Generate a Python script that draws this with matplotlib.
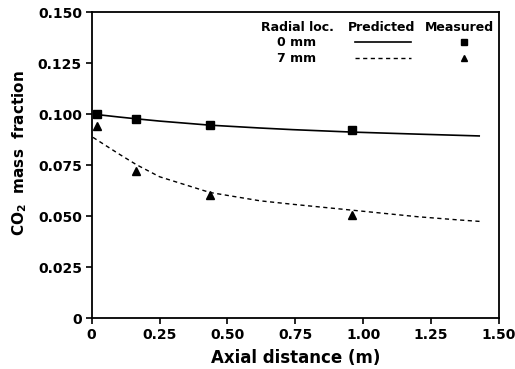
import matplotlib
matplotlib.use("Agg")
import matplotlib.pyplot as plt
from matplotlib.lines import Line2D

# Measured data
meas_x = [0.02, 0.165, 0.435, 0.96]
meas_0mm = [0.1002, 0.0975, 0.0948, 0.0920]
meas_7mm = [0.0940, 0.0722, 0.0603, 0.0505]

# Predicted curves
pred_x = [0.005, 0.10, 0.165, 0.25, 0.435, 0.62, 0.74, 0.96, 1.20, 1.354, 1.43]
pred_0mm = [0.1000, 0.0986, 0.0977, 0.0966, 0.0946, 0.0932, 0.0924, 0.0912, 0.0902, 0.0896, 0.0893]
pred_7mm = [0.0886, 0.0805, 0.0752, 0.0693, 0.0616, 0.0575, 0.0558, 0.0529, 0.0497, 0.0481, 0.0474]

xticks = [0, 0.25, 0.50, 0.75, 1.00, 1.25, 1.50]
xticklabels = ["0", "0.25", "0.50", "0.75", "1.00", "1.25", "1.50"]
yticks = [0, 0.025, 0.050, 0.075, 0.100, 0.125, 0.150]
yticklabels = ["0", "0.025", "0.050", "0.075", "0.100", "0.125", "0.150"]

plt.rcParams['font.family'] = ['DejaVu Sans']
plt.rcParams['font.weight'] = 'bold'

fig = plt.figure(figsize=(5.15, 3.69), dpi=100)
ax = fig.add_axes([0.178, 0.138, 0.791, 0.829])

ax.plot(pred_x, pred_0mm, color='black', lw=1.2, solid_capstyle='butt')
ax.plot(pred_x, pred_7mm, color='black', lw=1.0, linestyle=(0, (3, 2.5)))
ax.plot(meas_x, meas_0mm, linestyle='none', marker='s', color='black', markersize=6)
ax.plot(meas_x, meas_7mm, linestyle='none', marker='^', color='black', markersize=6)

ax.set_xlim(0, 1.5)
ax.set_ylim(0, 0.15)
ax.set_xticks(xticks)
ax.set_xticklabels(xticklabels, fontsize=10, fontweight='bold')
ax.set_yticks(yticks)
ax.set_yticklabels(yticklabels, fontsize=10, fontweight='bold')
ax.tick_params(direction='out', length=4, width=1.2, pad=3)
for s in ax.spines.values():
    s.set_linewidth(1.3)

ax.set_xlabel("Axial distance (m)", fontsize=12, fontweight='bold', labelpad=5)
ax.set_ylabel("CO$_\\mathbf{2}$  mass  fraction", fontsize=11, fontweight='bold')
ax.yaxis.set_label_coords(-0.155, 0.54)

# Legend table
tr = ax.transAxes
def ax_x(px):
    return (px - 91.7) / (499 - 91.7)
def ax_y(py):
    return (318 - py) / (318 - 12)

fs = 9
ax.text(ax_x(297), ax_y(27), "Radial loc.", transform=tr, fontsize=fs, fontweight='bold', ha='center', va='center')
ax.text(ax_x(382), ax_y(27), "Predicted", transform=tr, fontsize=fs, fontweight='bold', ha='center', va='center')
ax.text(ax_x(459), ax_y(27), "Measured", transform=tr, fontsize=fs, fontweight='bold', ha='center', va='center')
ax.text(ax_x(297), ax_y(42), "0 mm", transform=tr, fontsize=fs, fontweight='bold', ha='center', va='center')
ax.text(ax_x(297), ax_y(58), "7 mm", transform=tr, fontsize=fs, fontweight='bold', ha='center', va='center')
ax.add_line(Line2D([ax_x(355), ax_x(411)], [ax_y(42), ax_y(42)], transform=tr, color='black', lw=1.2))
ax.add_line(Line2D([ax_x(355), ax_x(411)], [ax_y(58), ax_y(58)], transform=tr, color='black', lw=1.0, linestyle=(0, (3, 2.5))))
ax.add_line(Line2D([ax_x(464)], [ax_y(42)], transform=tr, color='black', marker='s', markersize=5, linestyle='none'))
ax.add_line(Line2D([ax_x(464)], [ax_y(58)], transform=tr, color='black', marker='^', markersize=5, linestyle='none'))

fig.savefig("out.png", dpi=100)
